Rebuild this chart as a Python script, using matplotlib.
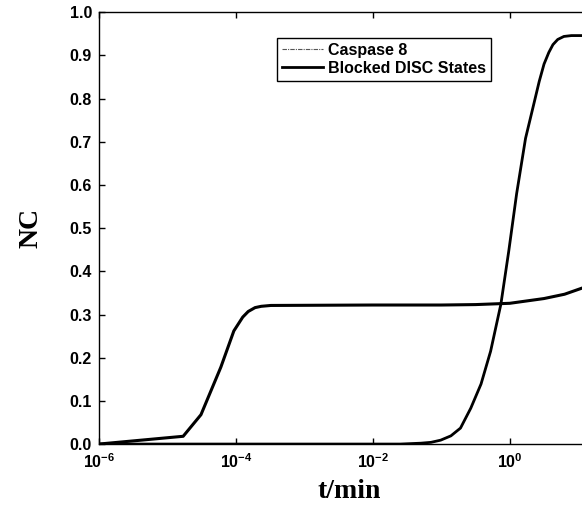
import matplotlib
matplotlib.use("Agg")
import matplotlib.pyplot as plt
from matplotlib.lines import Line2D
from matplotlib.ticker import FixedLocator, FixedFormatter

# log10(t) / value points
casp_logt = [-6.0, -3.0, -1.6, -1.3, -1.15, -1.01, -0.86, -0.72, -0.57, -0.42,
             -0.28, -0.13, -0.015, 0.10, 0.23, 0.35, 0.43, 0.50, 0.57, 0.63,
             0.70, 0.79, 0.90, 1.07, 1.30]
casp_val = [0.0, 0.0, 0.0, 0.002, 0.004, 0.009, 0.019, 0.037, 0.083, 0.139,
            0.215, 0.324, 0.447, 0.58, 0.708, 0.787, 0.84, 0.88, 0.907, 0.925,
            0.937, 0.944, 0.946, 0.946, 0.946]

disc_logt = [-6.0, -4.77, -4.51, -4.22, -4.03, -3.90, -3.82, -3.72, -3.63,
             -3.49, -2.0, -1.0, -0.5, 0.0, 0.5, 0.8, 1.07, 1.30]
disc_val = [0.0, 0.018, 0.068, 0.178, 0.262, 0.294, 0.307, 0.316, 0.319,
            0.321, 0.322, 0.322, 0.323, 0.326, 0.337, 0.347, 0.362, 0.378]

xticks = [1e-6, 1e-4, 1e-2, 1e0]
xticklabels = [r"$\mathbf{10^{-6}}$", r"$\mathbf{10^{-4}}$",
               r"$\mathbf{10^{-2}}$", r"$\mathbf{10^{0}}$"]
yticks = [0.0, 0.1, 0.2, 0.3, 0.4, 0.5, 0.6, 0.7, 0.8, 0.9, 1.0]

plt.rcParams['mathtext.fontset'] = 'custom'
plt.rcParams['mathtext.bf'] = 'Liberation Sans:bold'
plt.rcParams['mathtext.rm'] = 'Liberation Sans'

fig = plt.figure(figsize=(5.82, 5.11), dpi=100)
ax = fig.add_axes([0.170, 0.131, 0.859, 0.845])

casp_t = [10 ** v for v in casp_logt]
disc_t = [10 ** v for v in disc_logt]
ax.plot(casp_t, casp_val, color='black', lw=2.0)
ax.plot(disc_t, disc_val, color='black', lw=2.2)

ax.set_xscale('log')
ax.set_xlim(1e-6, 20)
ax.set_ylim(0, 1.0)
ax.xaxis.set_major_locator(FixedLocator(xticks))
ax.xaxis.set_major_formatter(FixedFormatter(xticklabels))
ax.xaxis.set_minor_locator(FixedLocator([]))
ax.set_yticks(yticks)
ax.set_yticklabels(["%.1f" % v for v in yticks])
ax.tick_params(direction='in', length=4, width=1, top=True, right=True,
               labelsize=11.5)
ax.tick_params(axis='x', pad=6)
ax.tick_params(axis='y', pad=5)
for lab in ax.get_yticklabels():
    lab.set_fontfamily('Liberation Sans')
    lab.set_fontweight('bold')
for s in ax.spines.values():
    s.set_linewidth(1.0)

ax.set_xlabel("t/min", family='Liberation Serif', fontweight='bold',
              fontsize=20, labelpad=6)
ax.set_ylabel("NC", family='Liberation Serif', fontweight='bold',
              fontsize=20, labelpad=19)

handles = [Line2D([], [], color='#555555', lw=0.8, ls=(0, (4, 1, 1, 1))),
           Line2D([], [], color='black', lw=2.0)]
leg = ax.legend(handles, ["Caspase 8", "Blocked DISC States"],
                loc='upper left', bbox_to_anchor=(0.476, 0.926),
                bbox_transform=fig.transFigure, fancybox=False,
                framealpha=1, edgecolor='black', handlelength=2.6,
                handletextpad=0.3, borderpad=0.3, labelspacing=0.2,
                borderaxespad=0.0,
                prop={'family': 'Liberation Sans', 'weight': 'bold', 'size': 11.5})
leg.get_frame().set_linewidth(1.0)

fig.savefig("out.png", dpi=100)
